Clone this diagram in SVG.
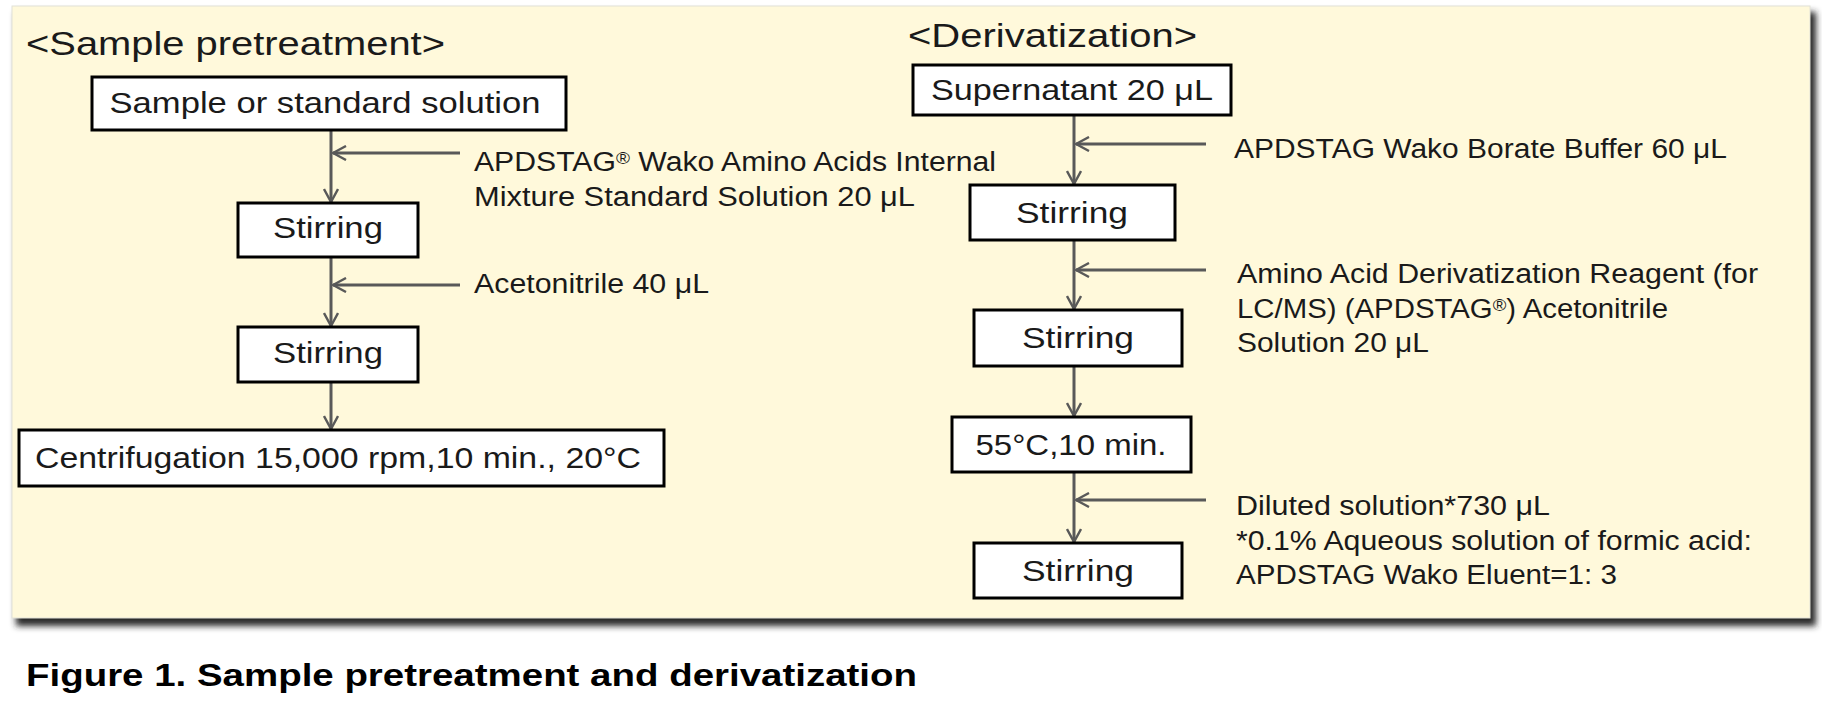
<svg xmlns="http://www.w3.org/2000/svg" width="1822" height="722" viewBox="0 0 1822 722">
<defs>
<filter id="sh" x="-5%" y="-5%" width="110%" height="110%"><feGaussianBlur stdDeviation="3"/></filter>
<marker id="arr" viewBox="0 0 16 16" refX="15" refY="8" markerWidth="16" markerHeight="16" markerUnits="userSpaceOnUse" orient="auto">
<path d="M2,1 L15,8 L2,15" fill="none" stroke="#595959" stroke-width="2.4"/>
</marker>
<style>
text{font-family:"Liberation Sans",Arial,sans-serif;fill:#1a1a1a}
.box{fill:#fff;stroke:#000;stroke-width:3}
.bt{font-size:30px;text-anchor:middle}
.lb{font-size:27px}
.ti{font-size:33px}
.cap{font-size:31px;font-weight:bold;fill:#000}
.ca{stroke:#595959;stroke-width:3;fill:none;marker-end:url(#arr)}
.sup{font-size:17px}
</style>
</defs>
<rect width="1822" height="722" fill="#fff"/>
<rect x="16" y="12" width="1800" height="614" fill="#2a2a2a" filter="url(#sh)"/>
<rect x="12" y="6" width="1798" height="612" fill="#FFF9DB" stroke="#e2e2d8" stroke-width="1"/>

<text class="ti" x="26" y="55" textLength="419" lengthAdjust="spacingAndGlyphs">&lt;Sample pretreatment&gt;</text>
<text class="ti" x="908" y="47" textLength="289" lengthAdjust="spacingAndGlyphs">&lt;Derivatization&gt;</text>

<g id="connectors">
<line class="ca" x1="331" y1="130" x2="331" y2="202"/>
<line class="ca" x1="460" y1="153" x2="333" y2="153"/>
<line class="ca" x1="331" y1="257" x2="331" y2="326"/>
<line class="ca" x1="460" y1="285" x2="333" y2="285"/>
<line class="ca" x1="331" y1="382" x2="331" y2="429"/>
<line class="ca" x1="1074" y1="115" x2="1074" y2="184"/>
<line class="ca" x1="1206" y1="144" x2="1076" y2="144"/>
<line class="ca" x1="1074" y1="240" x2="1074" y2="309"/>
<line class="ca" x1="1206" y1="270" x2="1076" y2="270"/>
<line class="ca" x1="1074" y1="366" x2="1074" y2="416"/>
<line class="ca" x1="1074" y1="472" x2="1074" y2="542"/>
<line class="ca" x1="1206" y1="500" x2="1076" y2="500"/>
</g>

<g id="n1"><rect class="box" x="92" y="77" width="474" height="53"/><text class="bt" x="325" y="113" textLength="431" lengthAdjust="spacingAndGlyphs">Sample or standard solution</text></g>
<g id="n2"><rect class="box" x="238" y="203" width="180" height="54"/><text class="bt" x="328" y="238" textLength="110" lengthAdjust="spacingAndGlyphs">Stirring</text></g>
<g id="n3"><rect class="box" x="238" y="327" width="180" height="55"/><text class="bt" x="328" y="363" textLength="110" lengthAdjust="spacingAndGlyphs">Stirring</text></g>
<g id="n4"><rect class="box" x="19" y="430" width="645" height="56"/><text class="bt" x="338" y="468" textLength="606" lengthAdjust="spacingAndGlyphs">Centrifugation 15,000 rpm,10 min., 20°C</text></g>

<g id="l1"><text class="lb" x="474" y="171" textLength="522" lengthAdjust="spacingAndGlyphs">APDSTAG<tspan class="sup" dy="-7">®</tspan><tspan dy="7"> Wako Amino Acids Internal</tspan></text><text class="lb" x="474" y="206" textLength="441" lengthAdjust="spacingAndGlyphs">Mixture Standard Solution  20 μL</text></g>
<g id="l2"><text class="lb" x="474" y="293" textLength="235" lengthAdjust="spacingAndGlyphs">Acetonitrile 40 μL</text></g>

<g id="r1"><rect class="box" x="913" y="65" width="318" height="50"/><text class="bt" x="1072" y="100" textLength="282" lengthAdjust="spacingAndGlyphs">Supernatant 20 μL</text></g>
<g id="r2"><rect class="box" x="970" y="185" width="205" height="55"/><text class="bt" x="1072" y="223" textLength="112" lengthAdjust="spacingAndGlyphs">Stirring</text></g>
<g id="r3"><rect class="box" x="974" y="310" width="208" height="56"/><text class="bt" x="1078" y="348" textLength="112" lengthAdjust="spacingAndGlyphs">Stirring</text></g>
<g id="r4"><rect class="box" x="952" y="417" width="239" height="55"/><text class="bt" x="1071" y="455" textLength="191" lengthAdjust="spacingAndGlyphs">55°C,10 min.</text></g>
<g id="r5"><rect class="box" x="974" y="543" width="208" height="55"/><text class="bt" x="1078" y="581" textLength="112" lengthAdjust="spacingAndGlyphs">Stirring</text></g>

<g id="rl1"><text class="lb" x="1234" y="158" textLength="493" lengthAdjust="spacingAndGlyphs">APDSTAG Wako Borate Buffer 60 μL</text></g>
<g id="rl2"><text class="lb" x="1237" y="283" textLength="521" lengthAdjust="spacingAndGlyphs">Amino Acid Derivatization Reagent (for</text><text class="lb" x="1237" y="318" textLength="431" lengthAdjust="spacingAndGlyphs">LC/MS) (APDSTAG<tspan class="sup" dy="-7">®</tspan><tspan dy="7">) Acetonitrile</tspan></text><text class="lb" x="1237" y="352" textLength="192" lengthAdjust="spacingAndGlyphs">Solution 20 μL</text></g>
<g id="rl3"><text class="lb" x="1236" y="515" textLength="314" lengthAdjust="spacingAndGlyphs">Diluted solution*730 μL</text><text class="lb" x="1236" y="550" textLength="516" lengthAdjust="spacingAndGlyphs">*0.1% Aqueous solution of formic acid:</text><text class="lb" x="1236" y="584" textLength="381" lengthAdjust="spacingAndGlyphs">APDSTAG Wako Eluent=1: 3</text></g>

<text class="cap" x="26" y="686" textLength="891" lengthAdjust="spacingAndGlyphs">Figure 1. Sample pretreatment and derivatization</text>
</svg>
